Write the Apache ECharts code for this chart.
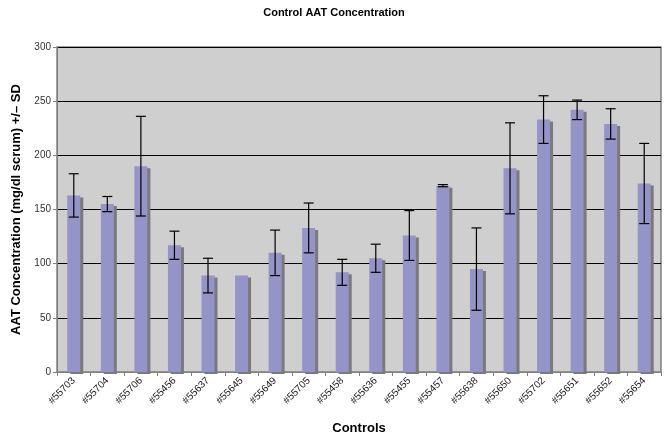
<!DOCTYPE html>
<html><head><meta charset="utf-8">
<script src="https://cdn.jsdelivr.net/npm/echarts@6/dist/echarts.min.js"></script>
<style>html,body{margin:0;padding:0;background:#fff}#c{width:668px;height:440px}</style>
</head><body><div id="c"></div>
<script>
const categories = ['#55703','#55704','#55706','#55456','#55637','#55645','#55649','#55705','#55458','#55636','#55455','#55457','#55638','#55650','#55702','#55651','#55652','#55654'];
const means = [163,155,190,117,89,89,110,133,92,105,126,172,95,188,233,242,229,174];
const sds = [20,7,46,13,16,0,21,23,12,13,23,1,38,42,22,9,14,37];
const yTicks = [0,50,100,150,200,250,300];

const errData = categories.map((c,i)=>[i, means[i]-sds[i], means[i]+sds[i], sds[i]]);
const chart = echarts.init(document.getElementById('c'));
const F = 'Liberation Sans, Arial, sans-serif';
chart.setOption({
  animation:false,
  title:{text:'Control AAT Concentration',left:'center',top:2,textStyle:{fontFamily:F,fontSize:11,fontWeight:'bold',color:'#000'}},
  grid:{left:57,right:7,top:47,bottom:68,show:true,backgroundColor:'#cfcfcf',borderColor:'#808080',borderWidth:1.5},
  xAxis:{type:'category',data:categories,
    name:'Controls',nameLocation:'middle',nameGap:50,
    nameTextStyle:{fontFamily:F,fontSize:13,fontWeight:'bold',color:'#000'},
    axisLine:{lineStyle:{color:'#808080',width:1}},
    axisTick:{show:true,alignWithLabel:false,lineStyle:{color:'#808080'},length:4},
    axisLabel:{rotate:45,fontFamily:F,fontSize:10,color:'#222',margin:7,interval:0},
    splitLine:{show:false}},
  yAxis:{type:'value',min:0,max:300,interval:50,
    name:'AAT Concentration (mg/dl scrum) +/\u2013 SD',nameLocation:'middle',nameGap:34,
    nameTextStyle:{fontFamily:F,fontSize:13,fontWeight:'bold',color:'#000'},
    axisLine:{show:true,lineStyle:{color:'#808080'}},
    axisTick:{show:true,length:4,lineStyle:{color:'#808080'}},
    axisLabel:{fontFamily:F,fontSize:10,color:'#333',margin:6,
      formatter:v=>yTicks.includes(v)?String(v):''},
    splitLine:{show:true,lineStyle:{color:'#000',width:1}}},
  series:[
    {type:'bar',data:means,barWidth:13,
      itemStyle:{color:'#9494c8',shadowColor:'#7a7a7a',shadowOffsetX:3,shadowOffsetY:2,shadowBlur:0}},
    {type:'custom',data:errData,z:10,
      renderItem:function(params,api){
        if(api.value(3)<=0) return {type:'group',children:[]};
        const x=api.value(0), lo=api.value(1), hi=api.value(2);
        const p1=api.coord([x,hi]), p2=api.coord([x,lo]);
        const w=5;
        const st={stroke:'#000',lineWidth:1.2};
        return {type:'group',children:[
          {type:'line',shape:{x1:p1[0],y1:p1[1],x2:p2[0],y2:p2[1]},style:st},
          {type:'line',shape:{x1:p1[0]-w,y1:p1[1],x2:p1[0]+w,y2:p1[1]},style:st},
          {type:'line',shape:{x1:p2[0]-w,y1:p2[1],x2:p2[0]+w,y2:p2[1]},style:st}
        ]};
      }}
  ]
});
</script></body></html>
